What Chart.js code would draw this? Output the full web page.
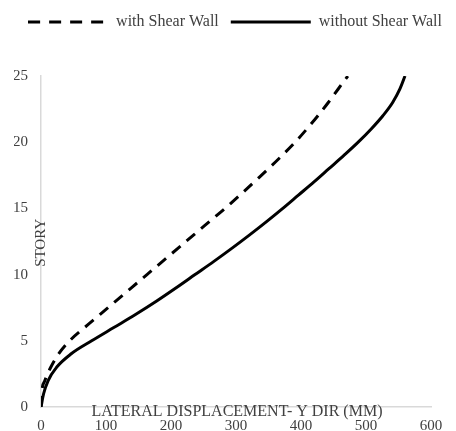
<!DOCTYPE html>
<html>
<head>
<meta charset="utf-8">
<script src="https://cdn.jsdelivr.net/npm/chart.js@4/dist/chart.umd.min.js"></script>
<style>
  html, body { margin: 0; padding: 0; background: #ffffff; }
  #wrap { width: 456px; height: 431px; }
</style>
</head>
<body>
<div id="wrap"><canvas id="story"></canvas></div>
<script>
// Story levels and lateral displacement (mm) in the Y direction
const stories = [0, 1, 2, 3, 4, 5, 6, 7, 8, 9, 10, 11, 12, 13, 14, 15, 16, 17, 18, 19, 20, 21, 22, 23, 24, 25];
const withShearWall = [0, 1, 6, 15, 27, 44, 67, 91, 115, 139, 163, 187, 211, 235, 259, 283, 306, 328, 350, 371, 391, 409, 426, 442, 457, 472];
const withoutShearWall = [0, 4, 11, 24, 46, 78, 112, 146, 178, 208, 237, 266, 294, 321, 347, 372, 396, 420, 443, 466, 488, 508, 526, 541, 552, 560];

const seriesNames = ['with Shear Wall', 'without Shear Wall'];
const xTicks = [0, 100, 200, 300, 400, 500, 600];
const yTicks = [0, 5, 10, 15, 20, 25];
const xTitle = 'LATERAL DISPLACEMENT- Y DIR (MM)';
const yTitle = 'STORY';

const serif = "'Liberation Serif', 'Times New Roman', serif";
const textColor = '#404040';
const dash = [11, 8];

const toPoints = vals => vals.map((v, i) => ({ x: v, y: stories[i] }));

// Small dashed stroke used as the legend key for the dashed series
function dashedKey(width) {
  const c = document.createElement('canvas');
  c.width = width;
  c.height = 4;
  const g = c.getContext('2d');
  g.strokeStyle = '#000000';
  g.lineWidth = 3;
  g.setLineDash([12, 9]);
  g.beginPath();
  g.moveTo(0, 2);
  g.lineTo(width, 2);
  g.stroke();
  return c;
}

// Axis titles sit on top of the plot, next to the axis lines
const axisTitles = {
  id: 'axisTitles',
  afterDraw(chart) {
    const { ctx, chartArea, scales } = chart;
    ctx.save();
    ctx.fillStyle = textColor;
    ctx.font = '16px ' + serif;
    ctx.textAlign = 'center';
    ctx.textBaseline = 'alphabetic';
    ctx.fillText(xTitle, (chartArea.left + chartArea.right) / 2 + 1, scales.y.getPixelForValue(0) + 9);
    ctx.translate(chartArea.left + 4, scales.y.getPixelForValue(12.4));
    ctx.rotate(-Math.PI / 2);
    ctx.font = '15px ' + serif;
    ctx.fillText(yTitle, 0, 0);
    ctx.restore();
  }
};

new Chart(document.getElementById('story'), {
  type: 'line',
  data: {
    datasets: [
      {
        label: seriesNames[0],
        data: toPoints(withShearWall),
        borderColor: '#000000',
        backgroundColor: '#000000',
        borderWidth: 3,
        borderDash: dash,
        pointRadius: 0,
        pointStyle: dashedKey(80),
        cubicInterpolationMode: 'monotone',
        fill: false
      },
      {
        label: seriesNames[1],
        data: toPoints(withoutShearWall),
        borderColor: '#000000',
        backgroundColor: '#000000',
        borderWidth: 3,
        pointRadius: 0,
        pointStyle: 'line',
        cubicInterpolationMode: 'monotone',
        fill: false
      }
    ]
  },
  options: {
    responsive: true,
    maintainAspectRatio: false,
    animation: false,
    layout: { padding: { top: 2, right: 0, bottom: 0, left: 14 } },
    scales: {
      x: {
        type: 'linear',
        position: 'bottom',
        min: 0,
        max: 600,
        afterBuildTicks: s => { s.ticks = xTicks.map(v => ({ value: v })); },
        afterFit: s => { s.height = 24; },
        grid: { display: false, drawTicks: false },
        border: { display: true, color: '#d9d9d9', width: 1.5 },
        ticks: { padding: 10, color: textColor, font: { family: serif, size: 15 }, maxRotation: 0 }
      },
      y: {
        type: 'linear',
        min: 0,
        max: 25,
        afterBuildTicks: s => { s.ticks = yTicks.map(v => ({ value: v })); },
        afterFit: s => { s.width = 27; },
        grid: { display: false, drawTicks: false },
        border: { display: true, color: '#d9d9d9', width: 1.5 },
        ticks: { padding: 13, color: textColor, font: { family: serif, size: 15 } }
      },
      gapTop: {
        type: 'linear',
        position: 'top',
        display: true,
        afterFit: s => { s.height = 36; },
        grid: { display: false, drawTicks: false },
        border: { display: false },
        ticks: { display: false }
      },
      gapRight: {
        type: 'linear',
        position: 'right',
        display: true,
        afterFit: s => { s.width = 25; },
        grid: { display: false, drawTicks: false },
        border: { display: false },
        ticks: { display: false }
      }
    },
    plugins: {
      legend: {
        position: 'top',
        labels: {
          usePointStyle: true,
          pointStyleWidth: 80,
          padding: 12,
          color: textColor,
          font: { family: serif, size: 16 }
        }
      },
      tooltip: { enabled: false }
    }
  },
  plugins: [axisTitles]
});
</script>
</body>
</html>
